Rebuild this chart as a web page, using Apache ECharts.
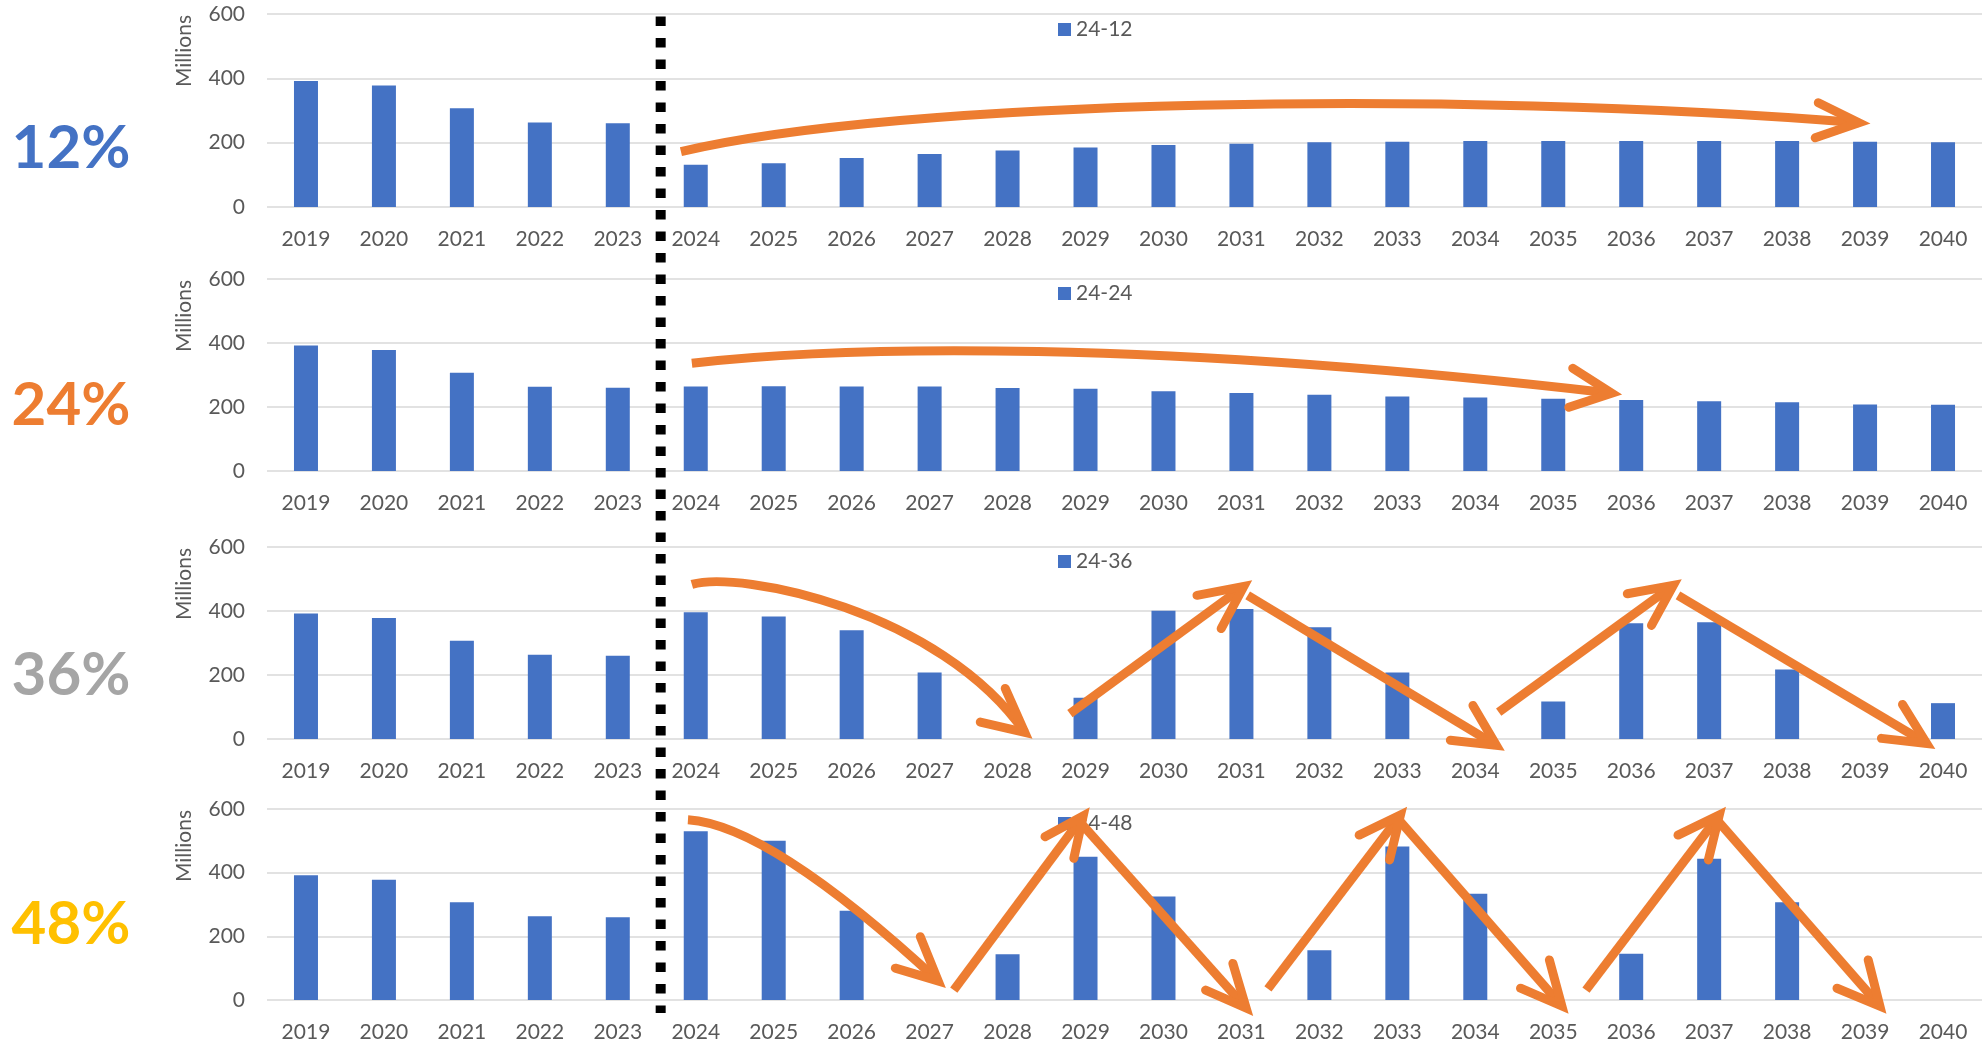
<!DOCTYPE html>
<html>
<head>
<meta charset="utf-8">
<script src="https://cdn.jsdelivr.net/npm/echarts@6/dist/echarts.min.js"></script>
<style>
  html, body { margin: 0; padding: 0; background: #fff; }
  #chart { width: 1985px; height: 1045px; }
</style>
</head>
<body>
<div id="chart"></div>
<script>
// Years on the category axis
const years = ['2019','2020','2021','2022','2023','2024','2025','2026','2027','2028','2029',
               '2030','2031','2032','2033','2034','2035','2036','2037','2038','2039','2040'];

// Value axis ticks (millions)
const yTicks = [0, 200, 400, 600];

// Actuals 2019-2023, shared by every scenario
const actuals = [392, 378, 307, 263, 260];

// Projections 2024-2040 for each scenario (millions)
const proj12 = [131, 136, 152, 165, 176, 185, 193, 197, 201, 203, 205, 205, 205, 205, 205, 203, 201];
const proj24 = [264, 265, 264, 264, 259, 257, 249, 244, 238, 233, 230, 226, 222, 218, 215, 208, 207];
const proj36 = [396, 383, 340, 208, 0, 129, 401, 406, 349, 208, 0, 117, 362, 365, 217, 0, 112];
const proj48 = [530, 500, 280, 0, 144, 450, 325, 0, 156, 482, 334, 0, 145, 444, 307, 0, 0];

const seriesNames = ['24-12', '24-24', '24-36', '24-48'];
const rateLabels = ['12%', '24%', '36%', '48%'];

// Trend arrows, in (category index, millions) units of each panel
const arrows12 = [
  { curve: [[4.81, 172], [7.62, 334], [14.68, 365], [19.92, 262]], head: [[19.40, 324], [19.92, 262], [19.36, 215]] }
];
const arrows24 = [
  { curve: [[4.95, 337], [6.98, 393], [10.83, 409], [16.75, 243]], head: [[16.25, 321], [16.75, 243], [16.20, 199]] }
];
const arrows36 = [
  { curve: [[4.95, 483], [5.57, 527], [8.13, 402], [9.22, 21]], head: [[8.97, 158], [9.22, 21], [8.65, 53]] },
  { line: [[9.80, 79], [12.03, 477]], head: [[11.43, 449], [12.03, 477], [11.74, 345]] },
  { line: [[12.08, 449], [15.27, -20]], head: [[14.68, -4], [15.27, -20], [14.97, 105]] },
  { line: [[15.30, 84], [17.54, 480]], head: [[16.95, 454], [17.54, 480], [17.26, 355]] },
  { line: [[17.60, 449], [20.79, -14]], head: [[20.21, 2], [20.79, -14], [20.48, 108]] }
];
const arrows48 = [
  { curve: [[4.90, 566], [5.60, 555], [6.67, 386], [8.11, 60]], head: [[7.56, 100], [8.11, 60], [7.88, 199]] },
  { line: [[8.31, 31], [9.97, 578]], head: [[9.48, 513], [9.97, 578], [9.85, 445]] },
  { line: [[9.94, 556], [12.06, -25]], head: [[11.54, 31], [12.06, -25], [11.89, 115]] },
  { line: [[12.34, 35], [14.04, 581]], head: [[13.51, 518], [14.04, 581], [13.90, 440]] },
  { line: [[14.04, 560], [16.11, -19]], head: [[15.58, 37], [16.11, -19], [15.95, 126]] },
  { line: [[16.42, 31], [18.13, 581]], head: [[17.60, 518], [18.13, 581], [17.99, 440]] },
  { line: [[18.12, 560], [20.19, -19]], head: [[19.64, 37], [20.19, -19], [20.04, 126]] }
];

// Divider between actuals and projections: from top panel to bottom panel
const dividerTop = [4.55, 592];     // panel 0
const dividerBottom = [4.55, -41];  // panel 3

// ---- layout & style ----
const FONT = 'Lato';
const TEXT = '#595959';
const BAR = '#4472C4';
const ARROW = '#ED7D31';
const rateColors = ['#4472C4', '#ED7D31', '#A5A5A5', '#FFC000'];
const gridTops = [14, 279, 547, 809];
const gridHeights = [193, 192, 192, 191];
const legendTops = [19, 283, 551, 813];
const rateCenters = [149, 406, 676, 925];

const allSeries = [proj12, proj24, proj36, proj48].map(p => actuals.concat(p));
const allArrows = [arrows12, arrows24, arrows36, arrows48];

const chart = echarts.init(document.getElementById('chart'), null, { renderer: 'canvas' });

const option = {
  animation: false,
  backgroundColor: '#fff',
  grid: gridTops.map((t, k) => ({ left: 267, width: 1715, top: t, height: gridHeights[k] })),
  xAxis: gridTops.map((t, k) => ({
    type: 'category', gridIndex: k, data: years,
    axisLine: { show: false }, axisTick: { show: false },
    axisLabel: { interval: 0, margin: 22, fontSize: 21, color: TEXT, fontFamily: FONT }
  })),
  yAxis: gridTops.map((t, k) => ({
    type: 'value', gridIndex: k,
    min: yTicks[0], max: yTicks[yTicks.length - 1], interval: yTicks[1] - yTicks[0],
    axisLine: { show: false }, axisTick: { show: false },
    axisLabel: { margin: 22, fontSize: 21, color: TEXT, fontFamily: FONT },
    splitLine: { lineStyle: { color: '#D9D9D9', width: 1.5 } }
  })),
  legend: seriesNames.map((n, k) => ({
    data: [n], left: 1058, top: legendTops[k], padding: 0,
    itemWidth: 13, itemHeight: 13, icon: 'rect', selectedMode: false,
    textStyle: { fontSize: 21, color: TEXT, fontFamily: FONT }
  })),
  series: seriesNames.map((n, k) => ({
    type: 'bar', name: n, xAxisIndex: k, yAxisIndex: k,
    data: allSeries[k], barWidth: 24,
    itemStyle: { color: BAR }
  }))
};
chart.setOption(option);

// Map (category index, millions) of panel k to pixels through the panel's axes
function mapper(k) {
  const x0 = chart.convertToPixel({ xAxisIndex: k }, years[0]);
  const x1 = chart.convertToPixel({ xAxisIndex: k }, years[years.length - 1]);
  const y0 = chart.convertToPixel({ yAxisIndex: k }, yTicks[0]);
  const y1 = chart.convertToPixel({ yAxisIndex: k }, yTicks[yTicks.length - 1]);
  const n = years.length - 1;
  const vmax = yTicks[yTicks.length - 1];
  return ([i, v]) => [x0 + (x1 - x0) * i / n, y0 + (y1 - y0) * v / vmax];
}

const elements = [];
const arrowStyle = { stroke: ARROW, lineWidth: 9, fill: null, lineJoin: 'miter', miterLimit: 10 };

allArrows.forEach((list, k) => {
  const m = mapper(k);
  list.forEach(a => {
    if (a.curve) {
      const [p0, c1, c2, p3] = a.curve.map(m);
      elements.push({
        type: 'bezierCurve', z: 100,
        shape: { x1: p0[0], y1: p0[1], cpx1: c1[0], cpy1: c1[1], cpx2: c2[0], cpy2: c2[1], x2: p3[0], y2: p3[1] },
        style: Object.assign({ lineCap: 'butt' }, arrowStyle)
      });
    } else {
      const [p0, p1] = a.line.map(m);
      elements.push({
        type: 'line', z: 100,
        shape: { x1: p0[0], y1: p0[1], x2: p1[0], y2: p1[1] },
        style: Object.assign({ lineCap: 'butt' }, arrowStyle)
      });
    }
    elements.push({
      type: 'polyline', z: 101,
      shape: { points: a.head.map(m) },
      style: Object.assign({ lineCap: 'round' }, arrowStyle)
    });
  });
});

// Dashed divider
const dTop = mapper(0)(dividerTop);
const dBot = mapper(3)(dividerBottom);
elements.push({
  type: 'line', z: 90,
  shape: { x1: dTop[0], y1: dTop[1], x2: dTop[0], y2: dBot[1] },
  style: { stroke: '#000', lineWidth: 10, lineDash: [9.5, 12], lineCap: 'butt' }
});

// Scenario rates and unit labels
rateLabels.forEach((t, k) => {
  elements.push({
    type: 'text', z: 50, x: 71, y: rateCenters[k],
    style: { text: t, font: 'bold 60px ' + FONT, fill: rateColors[k], textAlign: 'center', textVerticalAlign: 'middle' }
  });
  elements.push({
    type: 'text', z: 50, x: 184, y: gridTops[k] + 37, rotation: Math.PI / 2,
    style: { text: 'Millions', font: '21px ' + FONT, fill: TEXT, textAlign: 'center', textVerticalAlign: 'middle' }
  });
});

chart.setOption({ graphic: { elements: elements } });
</script>
</body>
</html>
